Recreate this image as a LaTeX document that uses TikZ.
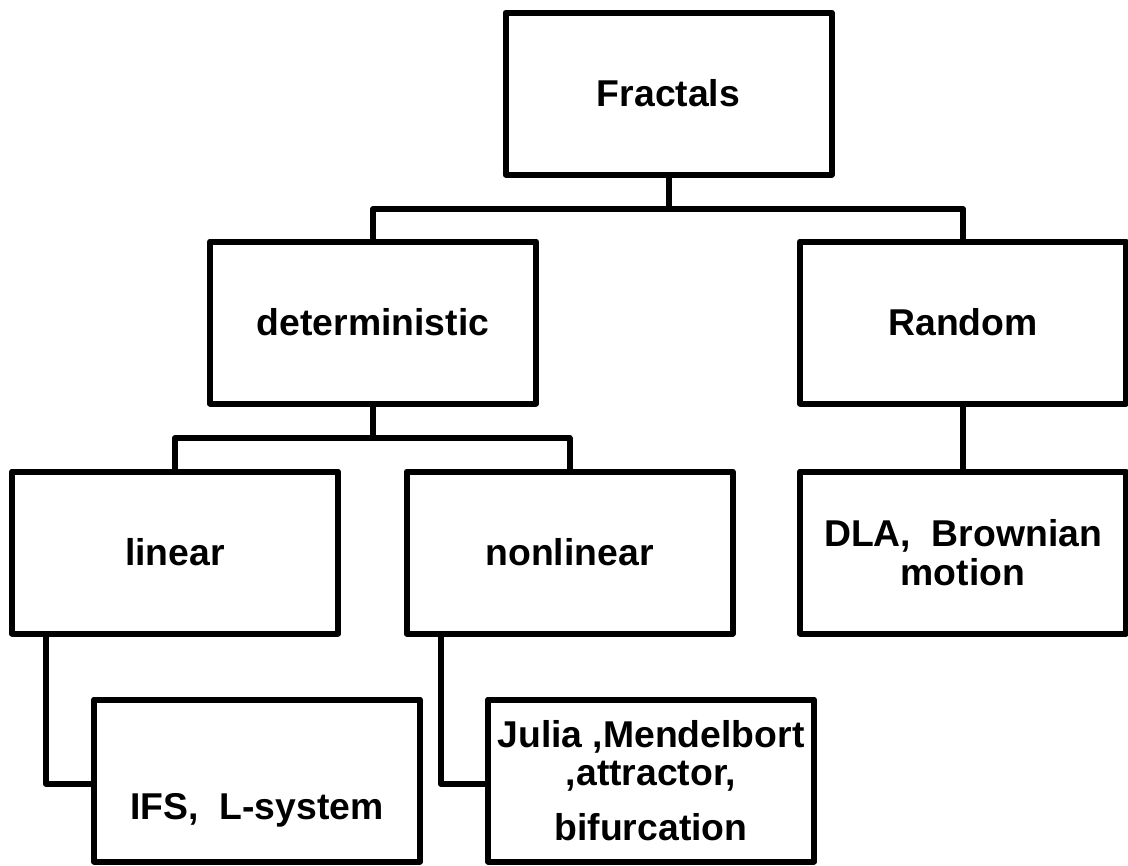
\documentclass[tikz,border=0pt]{standalone}
\usepackage{fontspec}
\setmainfont{Liberation Sans}
\begin{document}
\begin{tikzpicture}[x=0.75pt,y=-0.75pt,
  box/.style={draw,line width=4.5pt,line join=round,minimum width=244.5pt,minimum height=121.5pt,inner sep=0pt,align=center,font=\bfseries\fontsize{28}{29}\selectfont},
  link/.style={line width=4.5pt,line join=round}]
\useasboundingbox (0,0) rectangle (1128,865);
% boxes
\node[box] (fractals) at (668.5,93.5) {Fractals};
\node[box] (determ) at (373,322.5) {deterministic};
\node[box] (random) at (963,322.5) {Random};
\node[box] (linear) at (175,552.5) {linear};
\node[box] (nonlinear) at (569.5,552.5) {nonlinear};
\node[box] (dla) at (963,552.5) {DLA,\ \ Brownian\\motion};
\node[box] (ifs) at (257,780.5) {\raisebox{-29pt}[0pt][0pt]{IFS,\ \ L-system}};
\node[box] (julia) at (651,780.5) {Julia ,Mendelbort\\,attractor,\\[12pt]bifurcation};
% connectors
\coordinate (split1) at (668.5,209);
\coordinate (split2) at (373,438);
\draw[link] (fractals.south) -- (split1);
\draw[link] (determ.north) |- (split1) -| (random.north);
\draw[link] (determ.south) -- (split2);
\draw[link] (linear.north) |- (split2) -| (nonlinear.north);
\draw[link] (random.south) -- (dla.north);
\draw[link] ([xshift=27.75pt]linear.south west) |- ([yshift=-2.5pt]ifs.west);
\draw[link] ([xshift=27.75pt]nonlinear.south west) |- ([yshift=-2.5pt]julia.west);
\end{tikzpicture}
\end{document}
